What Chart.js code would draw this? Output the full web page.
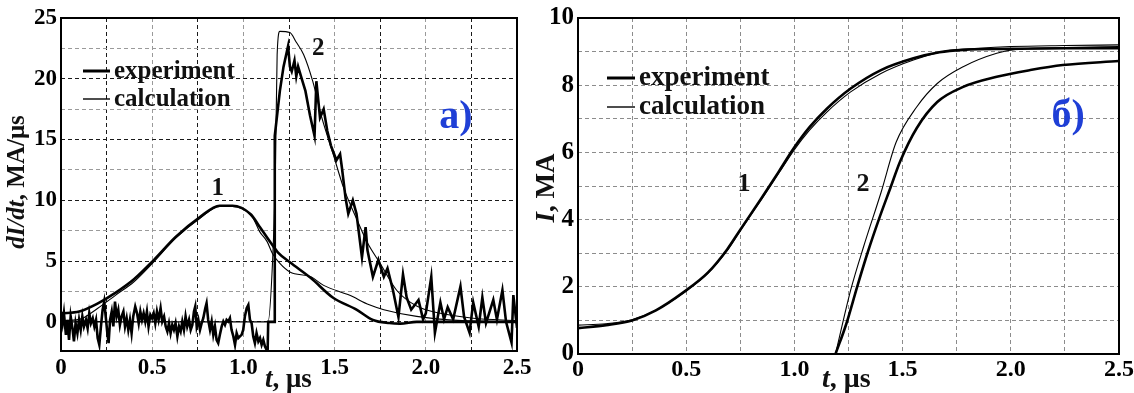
<!DOCTYPE html>
<html>
<head>
<meta charset="utf-8">
<script src="https://cdn.jsdelivr.net/npm/chart.js@4.4.1/dist/chart.umd.min.js"></script>
<style>
html, body { margin: 0; padding: 0; background: #fff; }
#wrap { position: relative; width: 1134px; height: 393px; overflow: hidden; }
canvas { position: absolute; top: 0; }
#left { left: 0; }
#right { left: 530px; }
</style>
</head>
<body>
<div id="wrap">
  <canvas id="left" width="535" height="393"></canvas>
  <canvas id="right" width="604" height="393"></canvas>
</div>
<script>
// tick labels
const xTickLabels = [0, 0.5, 1.0, 1.5, 2.0, 2.5];
const yTickLabelsA = [0, 5, 10, 15, 20, 25];
const yTickLabelsB = [0, 2, 4, 6, 8, 10];

// panel a): dI/dt, MA/us
const aExp1T = [0, 0.1, 0.2, 0.3, 0.4, 0.51, 0.63, 0.76, 0.87, 0.94, 1.04, 1.09, 1.15, 1.19, 1.255, 1.37, 1.49, 1.62, 1.71, 1.8, 1.86, 1.95, 2.5];
const aExp1V = [0.7, 0.85, 1.5, 2.4, 3.5, 5.1, 7.0, 8.6, 9.55, 9.55, 8.85, 7.8, 6.5, 5.7, 4.9, 3.6, 2.0, 1.0, 0.15, -0.1, -0.15, 0, 0];

const aCalc1T = [0, 0.1, 0.2, 0.3, 0.4, 0.5, 0.63, 0.76, 0.87, 0.94, 1.05, 1.09, 1.13, 1.16, 1.2, 1.255, 1.37, 1.44, 1.58, 1.69, 1.77, 1.95, 2.2, 2.5];
const aCalc1V = [0.1, 0.2, 1.1, 2.2, 3.3, 4.8, 6.9, 8.5, 9.5, 9.5, 8.6, 7.4, 6.6, 5.6, 4.8, 4.1, 3.7, 3.0, 2.2, 1.4, 1.0, 0.45, 0.1, 0];

const aExp2T = [
  0, 0.009, 0.016, 0.027, 0.035, 0.044, 0.053, 0.064, 0.071, 0.080,
  0.090, 0.099, 0.108, 0.117, 0.126, 0.137, 0.146, 0.155, 0.164, 0.174,
  0.183, 0.192, 0.201, 0.210, 0.219, 0.228, 0.237, 0.247, 0.254, 0.261,
  0.269, 0.278, 0.287, 0.296, 0.305, 0.314, 0.323, 0.332, 0.342, 0.351,
  0.360, 0.369, 0.378, 0.387, 0.396, 0.407, 0.417, 0.426, 0.435, 0.444,
  0.453, 0.462, 0.471, 0.480, 0.490, 0.499, 0.508, 0.517, 0.526, 0.535,
  0.546, 0.555, 0.565, 0.574, 0.583, 0.592, 0.601, 0.610, 0.619, 0.628,
  0.638, 0.647, 0.656, 0.665, 0.674, 0.683, 0.692, 0.702, 0.711, 0.720,
  0.729, 0.736, 0.744, 0.753, 0.762, 0.771, 0.780, 0.791, 0.798, 0.807,
  0.817, 0.826, 0.835, 0.844, 0.853, 0.862, 0.871, 0.881, 0.890, 0.899,
  0.908, 0.917, 0.926, 0.935, 0.945, 0.954, 0.963, 0.972, 0.981, 0.990,
  0.999, 1.008, 1.018, 1.027, 1.036, 1.045, 1.054, 1.063, 1.072, 1.082,
  1.091, 1.100, 1.109, 1.118, 1.127, 1.133,
  1.136, 1.168, 1.172, 1.2, 1.22, 1.245, 1.255, 1.265, 1.28, 1.29,
  1.30, 1.32, 1.34, 1.365, 1.39, 1.40, 1.42, 1.44, 1.46, 1.48,
  1.51, 1.53, 1.54, 1.56, 1.575, 1.60, 1.62, 1.65, 1.67, 1.68,
  1.71, 1.74, 1.77, 1.79, 1.82, 1.85, 1.875, 1.895, 1.92, 1.96,
  1.985, 2.0, 2.03, 2.05, 2.08, 2.1, 2.12, 2.15, 2.19, 2.21,
  2.24, 2.26, 2.29, 2.31, 2.33, 2.37, 2.39, 2.42, 2.44, 2.47,
  2.48, 2.5
];
const aExp2V = [
  0.85, -0.11, 0.71, -1.07, 0.16, -1.48, 0.44, -0.66, -1.61, -0.11,
  -0.93, 0.16, -0.66, 0.44, -0.38, 0.16, -0.52, 0.71, -0.11, 0.30,
  -0.38, 0.16, -1.34, -1.89, -0.38, 0.98, 1.67, 0.16, -0.93, -1.75,
  0.16, 0.85, -0.38, 1.67, 0.44, 0.98, -0.25, 0.44, 0.85, -0.38,
  0.30, -0.66, 0.16, -0.93, 0.44, 1.26, 0.71, -0.11, 0.85, 0.16,
  0.71, 0.03, 0.85, -0.38, 0.57, 0.30, 0.71, -0.11, 0.85, 0.16,
  1.12, 0.03, 0.44, -0.38, -0.79, -0.11, -0.93, -0.25, -0.66, -0.11,
  -1.20, -0.38, -0.79, 0.03, -0.66, 0.44, -0.38, 0.16, -0.66, -0.25,
  0.85, 1.26, -0.38, 0.16, -0.66, -0.11, 0.30, 1.12, 1.53, 0.16,
  -0.66, 0.03, -1.07, -0.38, -1.48, -1.75, -1.07, -0.38, 0.03, -0.25,
  0.16, 0.03, 0.30, -0.66, -1.20, -1.89, -0.93, -1.34, -1.20, -1.07,
  -0.66, 0.44, 1.12, 1.39, 0.16, -0.11, -1.20, -1.75, -0.93, -1.61,
  -1.34, -1.89, -1.48, -2.02, -2.30, -2.30,
  0, 0, 15.3, 19, 21, 22.7, 21.0, 20.6, 21.5, 20.2,
  21.0, 20.0, 19.0, 17.0, 15.3, 19.8, 16.8, 17.5, 15.7, 14.5,
  13.3, 13.8, 12.7, 10.2, 8.9, 10.0, 8.9, 5.3, 7.8, 5.9,
  3.7, 5.1, 3.7, 4.4, 2.6, 0.4, 3.9, 2.0, 1.0, 1.8,
  0.2, 0.7, 3.7, -0.9, 1.6, 0.2, 1.2, 0.2, 2.9, 0.4,
  -0.9, 1.6, -0.4, 2.0, -0.1, 1.8, 0.2, 2.6, 0, -1.7,
  2.2, -0.5
];

const aCalc2T = [0, 1.135, 1.16, 1.175, 1.185, 1.2, 1.255, 1.29, 1.33, 1.38, 1.43, 1.49, 1.55, 1.62, 1.68, 1.75, 1.84, 1.95, 2.08, 2.26, 2.5];
const aCalc2V = [0, 0, 5, 12, 22, 23.9, 23.8, 23, 22, 19.8, 16.8, 13.9, 11.0, 8.5, 6.5, 4.8, 2.6, 1.3, 0.7, 0.3, 0.1];

// panel б): I, MA
const bExp1T = [0, 0.13, 0.25, 0.36, 0.49, 0.6, 0.69, 0.75, 0.85, 0.93, 1.0, 1.07, 1.15, 1.26, 1.4, 1.55, 1.67, 1.78, 2.0, 2.25, 2.5];
const bExp1V = [0.77, 0.86, 1.0, 1.3, 1.85, 2.42, 3.12, 3.7, 4.66, 5.45, 6.15, 6.75, 7.3, 7.9, 8.45, 8.8, 8.98, 9.05, 9.08, 9.1, 9.1];

const bCalc1T = [0, 0.13, 0.25, 0.36, 0.49, 0.6, 0.69, 0.75, 0.85, 0.93, 1.0, 1.07, 1.15, 1.26, 1.4, 1.55, 1.7, 1.85, 2.0, 2.25, 2.5];
const bCalc1V = [0.86, 0.9, 1.02, 1.3, 1.83, 2.4, 3.08, 3.67, 4.62, 5.4, 6.08, 6.66, 7.2, 7.8, 8.35, 8.75, 9.02, 9.1, 9.15, 9.18, 9.2];

const bExp2T = [1.19, 1.24, 1.29, 1.34, 1.39, 1.44, 1.49, 1.565, 1.66, 1.78, 1.935, 2.09, 2.24, 2.5];
const bExp2V = [0, 0.9, 2.0, 3.05, 4.0, 4.88, 5.75, 6.72, 7.5, 7.95, 8.25, 8.45, 8.6, 8.72];

const bCalc2T = [1.19, 1.26, 1.32, 1.4, 1.47, 1.565, 1.66, 1.78, 1.935, 2.03, 2.25, 2.5];
const bCalc2V = [0, 1.9, 3.2, 4.8, 6.3, 7.35, 8.05, 8.55, 8.95, 9.07, 9.12, 9.15];

const SERIF = '"Liberation Serif", "Times New Roman", serif';
const BLUE = '#1f3fd6';
Chart.defaults.font.family = SERIF;
Chart.defaults.color = '#000';

function pts(T, V) {
  return T.map((t, i) => ({ x: t, y: V[i] }));
}
function onList(list, v) {
  return list.some(u => Math.abs(u - v) < 1e-6);
}
function curve(T, V, thick, smooth) {
  return {
    data: pts(T, V),
    borderColor: '#000',
    borderWidth: thick ? 2.6 : 1.1,
    pointRadius: 0,
    fill: false,
    tension: 0,
    cubicInterpolationMode: smooth ? 'monotone' : 'default'
  };
}

function xScale(gridColor, height, size, pad) {
  return {
    type: 'linear', min: 0, max: 2.5,
    ticks: {
      stepSize: 0.25, autoSkip: false, maxRotation: 0, padding: pad,
      font: { size: size, weight: 'bold' },
      callback: v => onList(xTickLabels, v) ? (v === 0 ? '0' : v.toFixed(1)) : ''
    },
    grid: { color: gridColor, drawTicks: false, lineWidth: 1 },
    border: { display: false, dash: [4, 3] },
    afterFit(s) { s.height = height; s.paddingLeft = 0; s.paddingRight = 0; }
  };
}
function yScale(min, max, step, labels, gridColor, width, size) {
  return {
    type: 'linear', min: min, max: max,
    ticks: {
      stepSize: step, autoSkip: false, padding: 4,
      font: { size: size, weight: 'bold' },
      callback: v => onList(labels, v) ? String(v) : ''
    },
    grid: { color: gridColor, drawTicks: false, lineWidth: 1 },
    border: { display: false, dash: [4, 3] },
    afterFit(s) { s.width = width; s.paddingTop = 0; s.paddingBottom = 0; }
  };
}

// text made of italic / upright pieces
function richWidth(ctx, parts, size) {
  let w = 0;
  parts.forEach(p => {
    ctx.font = (p.i ? 'italic ' : '') + 'bold ' + size + 'px ' + SERIF;
    w += ctx.measureText(p.t).width;
  });
  return w;
}
function drawRich(ctx, parts, x, y, size) {
  let cx = x;
  parts.forEach(p => {
    ctx.font = (p.i ? 'italic ' : '') + 'bold ' + size + 'px ' + SERIF;
    ctx.fillText(p.t, cx, y);
    cx += ctx.measureText(p.t).width;
  });
}

function decor(cfg) {
  return {
    id: 'decor',
    afterDraw(chart) {
      const { ctx, chartArea: a } = chart;
      const xs = chart.scales.x, ys = chart.scales.y;
      ctx.save();
      ctx.strokeStyle = '#000';
      ctx.lineWidth = 2;
      ctx.strokeRect(a.left, a.top, a.right - a.left, a.bottom - a.top);

      // legend
      const L = cfg.legend;
      ctx.fillStyle = '#111';
      ctx.textAlign = 'left';
      ctx.textBaseline = 'alphabetic';
      L.rows.forEach(r => {
        const yy = a.top + r.dy;
        ctx.beginPath();
        ctx.lineWidth = r.w;
        ctx.moveTo(a.left + L.x0, yy);
        ctx.lineTo(a.left + L.x1, yy);
        ctx.stroke();
        ctx.font = 'bold ' + L.size + 'px ' + SERIF;
        ctx.fillText(r.text, a.left + L.tx, yy + 7);
      });

      // curve numbers and panel letter
      ctx.textAlign = 'center';
      ctx.textBaseline = 'middle';
      cfg.marks.forEach(m => {
        ctx.font = 'bold ' + m.size + 'px ' + SERIF;
        ctx.fillStyle = m.color || '#111';
        ctx.fillText(m.text, xs.getPixelForValue(m.t), ys.getPixelForValue(m.v));
      });

      // axis titles
      ctx.fillStyle = '#111';
      ctx.textAlign = 'left';
      ctx.textBaseline = 'alphabetic';
      drawRich(ctx, cfg.xTitle, cfg.xTitleX, cfg.xTitleY, cfg.titleSize);

      ctx.save();
      ctx.translate(cfg.yTitleX, cfg.yTitleY);
      ctx.rotate(-Math.PI / 2);
      ctx.textBaseline = 'middle';
      const w = richWidth(ctx, cfg.yTitle, cfg.yTitleSize);
      drawRich(ctx, cfg.yTitle, -w / 2, 0, cfg.yTitleSize);
      ctx.restore();

      ctx.restore();
    }
  };
}

const xTitleParts = [{ t: 't', i: true }, { t: ', \u03bcs', i: false }];

// left chart
const gridDark = '#1a1a1a', gridLight = '#9a9a9a';
new Chart(document.getElementById('left'), {
  type: 'line',
  data: {
    datasets: [
      curve(aCalc1T, aCalc1V, false, true),
      curve(aCalc2T, aCalc2V, false, true),
      curve(aExp1T, aExp1V, true, true),
      curve(aExp2T, aExp2V, true, false)
    ]
  },
  options: {
    responsive: false,
    animation: false,
    layout: { padding: { top: 18, right: 18, left: 0, bottom: 0 } },
    plugins: { legend: { display: false }, tooltip: { enabled: false } },
    scales: {
      x: xScale(c => onList(xTickLabels, c.tick.value) ? gridLight : gridDark, 42, 23, 3),
      y: yScale(-2.4, 25, 2.5, yTickLabelsA,
        c => onList(yTickLabelsA, c.tick.value) ? gridDark : gridLight, 61, 23)
    }
  },
  plugins: [decor({
    legend: {
      x0: 22, x1: 49, tx: 53, size: 25,
      rows: [{ text: 'experiment', dy: 53, w: 3 }, { text: 'calculation', dy: 81, w: 1.4 }]
    },
    marks: [
      { text: '1', t: 0.86, v: 11.0, size: 25 },
      { text: '2', t: 1.41, v: 22.5, size: 25 },
      { text: 'a)', t: 2.165, v: 16.8, size: 40, color: BLUE }
    ],
    titleSize: 27,
    yTitleSize: 25,
    xTitle: xTitleParts, xTitleX: 265, xTitleY: 387,
    yTitle: [{ t: 'dI/dt', i: true }, { t: ', MA/\u03bcs', i: false }],
    yTitleX: 18, yTitleY: 182
  })]
});

// right chart
const gridGray = '#8c8c8c';
new Chart(document.getElementById('right'), {
  type: 'line',
  data: {
    datasets: [
      curve(bCalc1T, bCalc1V, false, true),
      curve(bCalc2T, bCalc2V, false, true),
      curve(bExp1T, bExp1V, true, true),
      curve(bExp2T, bExp2V, true, true)
    ]
  },
  options: {
    responsive: false,
    animation: false,
    layout: { padding: { top: 18, right: 15, left: 0, bottom: 0 } },
    plugins: { legend: { display: false }, tooltip: { enabled: false } },
    scales: {
      x: xScale(gridGray, 39, 24, 1),
      y: yScale(0, 10, 1, yTickLabelsB, gridGray, 48, 25)
    }
  },
  plugins: [decor({
    legend: {
      x0: 29, x1: 57, tx: 61, size: 27,
      rows: [{ text: 'experiment', dy: 60, w: 3 }, { text: 'calculation', dy: 89, w: 1.4 }]
    },
    marks: [
      { text: '1', t: 0.767, v: 5.06, size: 26 },
      { text: '2', t: 1.317, v: 5.06, size: 26 },
      { text: '\u0431)', t: 2.265, v: 7.05, size: 40, color: BLUE }
    ],
    titleSize: 28,
    yTitleSize: 27,
    xTitle: xTitleParts, xTitleX: 292, xTitleY: 387,
    yTitle: [{ t: 'I', i: true }, { t: ', MA', i: false }],
    yTitleX: 17, yTitleY: 188
  })]
});
</script>
</body>
</html>
